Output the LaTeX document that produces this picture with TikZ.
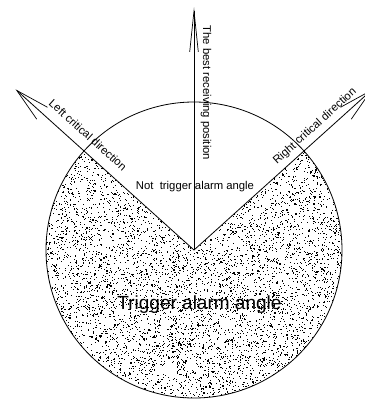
\documentclass[tikz,border=0pt]{standalone}
\usepackage{fontspec}
\setmainfont{Liberation Sans}
\usetikzlibrary{arrows.meta}
\begin{document}
\begin{tikzpicture}[x=1pt,y=1pt,
  thinline/.style={line width=0.8pt,black},
  diagbarb/.style={-{Straight Barb[length=34pt,width=16pt,line width=0.7pt]}},
  vertbarb/.style={-{Straight Barb[length=41pt,width=8.6pt,line width=0.7pt]}},
  lbl/.style={font=\fontsize{11.3}{13}\selectfont,inner sep=0pt},
  biglbl/.style={font=\fontsize{19}{22}\selectfont,inner sep=0pt}]
\useasboundingbox (0,0) rectangle (365,400);
\clip (0,0) rectangle (365,400);
\coordinate (C) at (194,150);
\path (C) ++(138:240) coordinate (L);
\path (C) ++(42:240) coordinate (R);
\coordinate (T) at (194,392.5);
% stipple
\begin{scope}
\clip (C) -- ++(138:148) arc[start angle=138,end angle=402,radius=148] -- cycle;
\pgfmathsetseed{7}
\foreach \i in {1,...,5200}{
  \pgfmathsetmacro\ang{138+264*rnd}
  \pgfmathsetmacro\rad{149*sqrt(rnd)}
  \pgfmathsetmacro\s{0.45+0.9*rnd}
  \pgfmathsetmacro\g{int(40*rnd)}
  \pgfmathsetmacro\px{194+\rad*cos(\ang)}
  \pgfmathsetmacro\py{150+\rad*sin(\ang)}
  \fill[black!\g!black!100] (\px,\py) rectangle ++(\s,\s);
}
\end{scope}
\draw[thinline] (C) circle[radius=148];
\draw[thinline,diagbarb] (C) -- (L);
\draw[thinline,diagbarb] (C) -- (R);
\draw[thinline,vertbarb] (C) -- (T);
\node[lbl,rotate=-42] (lcd) at (88,265) {Left critical direction};
\node[lbl,rotate=42] (rcd) at (315,273.5) {Right critical direction};
\node[lbl,rotate=-90] (brp) at (206,307) {The best receiving position};
\node[lbl,anchor=base] (nta) at (195,210) {Not\ \ trigger alarm angle};
\node[biglbl,anchor=base] (ta) at (199.5,91) {Trigger alarm angle};
\end{tikzpicture}
\end{document}
